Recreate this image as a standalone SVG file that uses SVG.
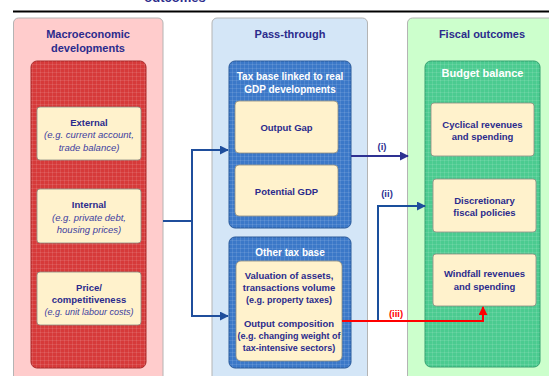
<svg xmlns="http://www.w3.org/2000/svg" width="549" height="376" viewBox="0 0 549 376">
  <defs>
    <pattern id="grid" width="4" height="4" patternUnits="userSpaceOnUse">
      <path d="M0 0.5H4M0.5 0V4" stroke="#ffffff" stroke-opacity="0.1" stroke-width="1" fill="none"/>
    </pattern>
    <marker id="arrBlue" viewBox="0 0 10 10" refX="9" refY="5" markerWidth="4.5" markerHeight="4.5" orient="auto" markerUnits="strokeWidth">
      <path d="M0 0L10 5L0 10z" fill="#1f4e9c"/>
    </marker>
    <marker id="arrNavy" viewBox="0 0 10 10" refX="9" refY="5" markerWidth="4.5" markerHeight="4.5" orient="auto" markerUnits="strokeWidth">
      <path d="M0 0L10 5L0 10z" fill="#2e3192"/>
    </marker>
    <marker id="arrRed" viewBox="0 0 10 10" refX="9" refY="5" markerWidth="4.5" markerHeight="4.5" orient="auto" markerUnits="strokeWidth">
      <path d="M0 0L10 5L0 10z" fill="#ff0000"/>
    </marker>
  </defs>
  <style>
    text { font-family: "Liberation Sans", Arial, sans-serif; text-anchor: middle; }
    .head { font-size: 11px; font-weight: bold; fill: #2b2b8c; }
    .inhead { font-size: 10px; font-weight: bold; fill: #ffffff; }
    .b { font-size: 9.5px; font-weight: bold; fill: #2b2b8c; }
    .i { font-size: 9.5px; font-style: italic; fill: #4040a0; }
    .lbl { font-size: 9.5px; font-weight: bold; fill: #2e3192; }
    .panel { stroke: #b4b4b4; stroke-width: 1; }
    .card { fill: #fff2cc; stroke: #8c8c80; stroke-width: 0.8; }
    .conn { fill: none; stroke-width: 2; }
  </style>

  <rect width="549" height="376" fill="#ffffff"/>

  <!-- heading above the rule, running off the top edge -->
  <text x="175" y="2" style="font-size:13px;font-weight:bold;fill:#2b2b8c">outcomes</text>
  <line x1="13" y1="11.5" x2="549" y2="11.5" stroke="#000000" stroke-width="2"/>

  <!-- Column 1: macroeconomic developments -->
  <g id="macro">
    <rect class="panel" x="13.5" y="18" width="149.5" height="370" rx="5" fill="#ffcccc"/>
    <text class="head" x="88" y="38">Macroeconomic</text>
    <text class="head" x="88" y="52">developments</text>
    <rect x="31" y="61" width="115" height="307" rx="6" fill="#d63a3a" stroke="#a82a2a" stroke-width="1"/>
    <rect x="31" y="61" width="115" height="307" rx="6" fill="url(#grid)"/>
  </g>
  <g id="external">
    <rect class="card" x="37" y="107" width="104" height="53" rx="3"/>
    <text class="b" x="89" y="126">External</text>
    <text class="i" x="89" y="138">(e.g. current account,</text>
    <text class="i" x="89" y="151">trade balance)</text>
  </g>
  <g id="internal">
    <rect class="card" x="37" y="189" width="104" height="54" rx="3"/>
    <text class="b" x="89" y="208">Internal</text>
    <text class="i" x="89" y="221">(e.g. private debt,</text>
    <text class="i" x="89" y="233">housing prices)</text>
  </g>
  <g id="price">
    <rect class="card" x="37" y="272" width="104" height="53" rx="3"/>
    <text class="b" x="89" y="291">Price/</text>
    <text class="b" x="89" y="303">competitiveness</text>
    <text class="i" x="89" y="315" style="font-size:9px">(e.g. unit labour costs)</text>
  </g>

  <!-- Column 2: pass-through -->
  <g id="passthrough">
    <rect class="panel" x="212" y="18" width="155.5" height="370" rx="5" fill="#d4e6f7"/>
    <text class="head" x="290" y="38">Pass-through</text>
  </g>
  <g id="realgdp">
    <rect x="229" y="61" width="122" height="167" rx="6" fill="#3b78c8" stroke="#2a5a9a" stroke-width="1"/>
    <rect x="229" y="61" width="122" height="167" rx="6" fill="url(#grid)"/>
    <text class="inhead" x="290" y="80">Tax base linked to real</text>
    <text class="inhead" x="290" y="93">GDP developments</text>
  </g>
  <g id="outputgap">
    <rect class="card" x="235" y="101" width="103" height="52" rx="4"/>
    <text class="b" x="286.5" y="131">Output Gap</text>
  </g>
  <g id="potentialgdp">
    <rect class="card" x="235" y="165" width="103" height="51" rx="4"/>
    <text class="b" x="286.5" y="195">Potential GDP</text>
  </g>
  <g id="othertax">
    <rect x="229" y="237" width="122" height="131" rx="6" fill="#3b78c8" stroke="#2a5a9a" stroke-width="1"/>
    <rect x="229" y="237" width="122" height="131" rx="6" fill="url(#grid)"/>
    <text class="inhead" x="290" y="256">Other tax base</text>
    <rect class="card" x="236" y="261" width="106" height="100" rx="5"/>
    <text class="b" x="289" y="279">Valuation of assets,</text>
    <text class="b" x="289" y="291">transactions volume</text>
    <text class="b" x="289" y="303" style="font-size:9px">(e.g. property taxes)</text>
    <text class="b" x="289" y="327">Output composition</text>
    <text class="b" x="289" y="339" style="font-size:9px">(e.g. changing weight of</text>
    <text class="b" x="289" y="351" style="font-size:9px">tax-intensive sectors)</text>
  </g>

  <!-- Column 3: fiscal outcomes -->
  <g id="fiscal">
    <rect class="panel" x="407.5" y="18" width="150" height="370" rx="5" fill="#ccffcc"/>
    <text class="head" x="482" y="38">Fiscal outcomes</text>
  </g>
  <g id="budget">
    <rect x="425" y="61" width="115" height="306" rx="6" fill="#4bcb90" stroke="#35a070" stroke-width="1"/>
    <rect x="425" y="61" width="115" height="306" rx="6" fill="url(#grid)"/>
    <text class="head" x="482.5" y="77" style="fill:#ffffff">Budget balance</text>
  </g>
  <g id="cyclical">
    <rect class="card" x="431" y="103" width="103" height="53" rx="3"/>
    <text class="b" x="482.5" y="128">Cyclical revenues</text>
    <text class="b" x="482.5" y="140">and spending</text>
  </g>
  <g id="discretionary">
    <rect class="card" x="433" y="179" width="103" height="53" rx="3"/>
    <text class="b" x="484.5" y="204">Discretionary</text>
    <text class="b" x="484.5" y="216">fiscal policies</text>
  </g>
  <g id="windfall">
    <rect class="card" x="433" y="254" width="103" height="52" rx="3"/>
    <text class="b" x="484.5" y="277">Windfall revenues</text>
    <text class="b" x="484.5" y="290">and spending</text>
  </g>

  <!-- Connectors -->
  <g id="connectors">
    <path class="conn" d="M163 221H192V150H228" stroke="#1f4e9c" marker-end="url(#arrBlue)"/>
    <path class="conn" d="M192 221V316H228" stroke="#1f4e9c" marker-end="url(#arrBlue)"/>
    <path class="conn" d="M351 156H408" stroke="#2e3192" marker-end="url(#arrNavy)"/>
    <text class="lbl" x="382" y="150">(i)</text>
    <path class="conn" d="M378 321V206H425" stroke="#1a4f9c" marker-end="url(#arrBlue)"/>
    <text class="lbl" x="387" y="197">(ii)</text>
    <path class="conn" d="M342 321H483V307" stroke="#ff0000" marker-end="url(#arrRed)"/>
    <text class="lbl" x="396" y="317" style="fill:#ff0000">(iii)</text>
  </g>
</svg>
